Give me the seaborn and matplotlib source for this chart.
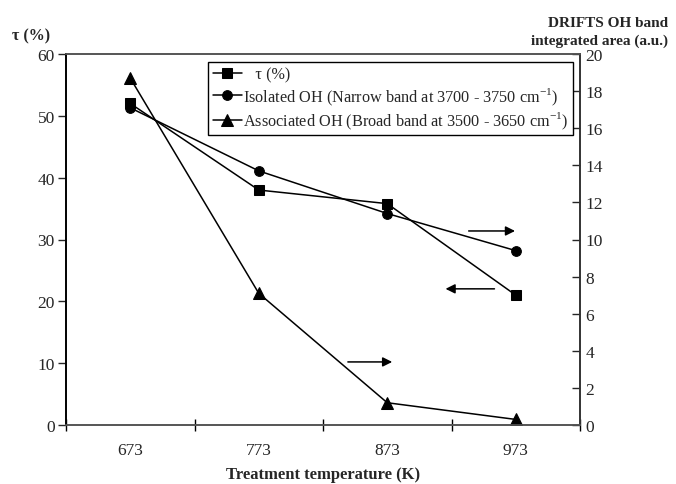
import matplotlib
matplotlib.use('Agg')
import matplotlib.pyplot as plt
import pandas as pd
import seaborn as sns

# Data
temperatures = ['673', '773', '873', '973']
tau = [52.0, 38.0, 35.8, 21.0]                 # left axis, %
isolated_oh = [17.1, 13.7, 11.4, 9.4]          # right axis, a.u.
associated_oh = [18.7, 7.1, 1.2, 0.3]          # right axis, a.u.

left_ticks = [0, 10, 20, 30, 40, 50, 60]
right_ticks = [0, 2, 4, 6, 8, 10, 12, 14, 16, 18, 20]

sns.set_style('white')
plt.rcParams['font.family'] = ['Liberation Serif', 'DejaVu Serif']
plt.rcParams['mathtext.fontset'] = 'custom'
plt.rcParams['mathtext.rm'] = 'Liberation Serif'

df_tau = pd.DataFrame({'T': temperatures, 'v': tau})
df_iso = pd.DataFrame({'T': temperatures, 'v': isolated_oh})
df_ass = pd.DataFrame({'T': temperatures, 'v': associated_oh})

fig = plt.figure(figsize=(6.76, 4.85), dpi=100)
ax = fig.add_axes([66 / 676, 1 - 426 / 485, 514 / 676, 371 / 485])
ax2 = ax.twinx()

line_kw = dict(color='black', linewidth=1.1, markeredgecolor='black',
               markerfacecolor='black')
sns.lineplot(data=df_tau, x='T', y='v', ax=ax, marker='s', markersize=7,
             label='   τ (%)', legend=False, **line_kw)
sns.lineplot(data=df_iso, x='T', y='v', ax=ax2, marker='o', markersize=7,
             label='Isolated OH (Narrow band at 3700 - 3750 cm$^{\\mathrm{-1}}$)',
             legend=False, **line_kw)
sns.lineplot(data=df_ass, x='T', y='v', ax=ax2, marker='^', markersize=8,
             label='Associated OH (Broad band at 3500 - 3650 cm$^{\\mathrm{-1}}$)',
             legend=False, **line_kw)

ax.set_xlim(-0.5, 3.5)
ax.set_ylim(0, 60)
ax2.set_ylim(0, 20)
ax.set_yticks(left_ticks)
ax2.set_yticks(right_ticks)

# category labels at centres, tick marks on category boundaries
ax.set_xticks(range(len(temperatures)))
ax.set_xticklabels(temperatures)
ax.set_xticks([i - 0.5 for i in range(len(temperatures) + 1)], minor=True)
ax.tick_params(axis='x', which='major', length=0, pad=12, labelsize=12.5)
ax.tick_params(axis='x', which='minor', direction='inout', length=8,
               width=1, color='black', bottom=True)
ax.tick_params(axis='y', direction='out', length=6, width=1, left=True,
               labelsize=12.5, pad=2)
ax2.tick_params(axis='y', direction='in', length=6, width=1, right=True,
                labelsize=12.5, pad=4)

ax.set_xlabel('Treatment temperature (K)', fontweight='bold', fontsize=12,
              labelpad=6)
ax.set_ylabel('')
ax2.set_ylabel('')

for a in (ax, ax2):
    a.spines['top'].set_color('#555555')
    a.spines['bottom'].set_color('#555555')
    a.spines['left'].set_color('black')
    a.spines['right'].set_color('#333333')
    for s in a.spines.values():
        s.set_linewidth(1.2)

fig.text(12 / 676, 1 - 44 / 485, 'τ (%)', fontweight='bold', fontsize=11.5,
         ha='left', va='bottom')
fig.text(668 / 676, 1 - 48 / 485, 'DRIFTS OH band\nintegrated area (a.u.)',
         fontweight='bold', fontsize=11, ha='right', va='bottom',
         linespacing=1.45)

# legend collecting both axes
h1, l1 = ax.get_legend_handles_labels()
h2, l2 = ax2.get_legend_handles_labels()
leg = ax2.legend(h1 + h2, l1 + l2, loc='upper right',
                 bbox_to_anchor=(0.986, 0.978), fontsize=11.7, frameon=True,
                 fancybox=False, edgecolor='black', framealpha=1,
                 handlelength=1.8, handletextpad=0.1, borderpad=0.25,
                 labelspacing=0.2, borderaxespad=0)
leg.get_frame().set_linewidth(1.0)

# arrows pointing to the axis each series belongs to
arrow = dict(arrowstyle='-|>', color='black', lw=1.1, mutation_scale=14)
ax.annotate('', xy=(0.879, 0.523), xytext=(0.778, 0.523),
            xycoords='axes fraction', arrowprops=arrow)
ax.annotate('', xy=(0.733, 0.367), xytext=(0.839, 0.367),
            xycoords='axes fraction', arrowprops=arrow)
ax.annotate('', xy=(0.640, 0.170), xytext=(0.543, 0.170),
            xycoords='axes fraction', arrowprops=arrow)

fig.savefig('out.png', dpi=100)
